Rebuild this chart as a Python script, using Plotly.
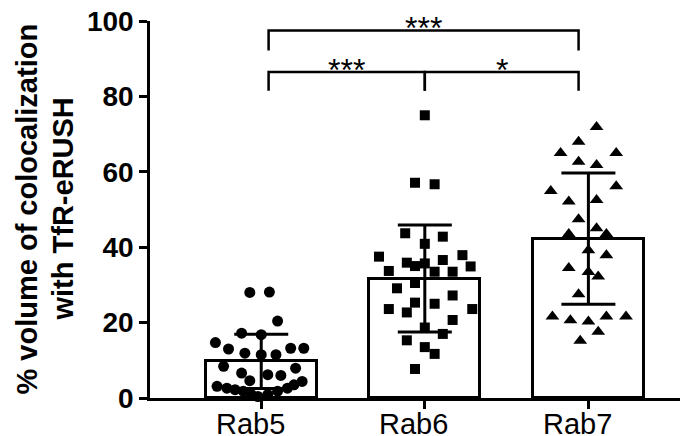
import plotly.graph_objects as go

# ---------------- data ----------------
categories = ["Rab5", "Rab6", "Rab7"]
bar_means = [9.7, 31.7, 42.3]
bar_sd = [7.2, 14.2, 17.4]

rab5_values = [28.0, 28.1, 20.4, 17.2, 16.8, 14.7, 13.0, 13.2, 13.2, 11.9, 11.5, 11.5,
               8.4, 7.9, 6.6, 4.6, 6.2, 6.0, 3.1, 2.6, 2.2, 1.8, 0.9, 0.4, 0.9, 1.8,
               2.6, 3.5, 4.4]
rab5_jitter = [-0.07, 0.05, 0.10, -0.12, 0.0, -0.28, -0.20, 0.18, 0.26, -0.10, 0.0, 0.09,
               -0.23, 0.21, -0.12, -0.07, 0.04, 0.12, -0.27, -0.21, -0.16, -0.11, -0.06,
               -0.02, 0.04, 0.10, 0.16, 0.20, 0.25]

rab6_values = [75.0, 57.1, 56.7, 43.7, 42.8, 40.9, 37.5, 35.9, 35.0, 35.7, 36.6, 37.9,
               34.9, 33.7, 33.5, 33.5, 29.1, 30.5, 27.2, 23.6, 22.7, 25.3, 25.0, 23.6,
               20.7, 18.7, 17.0, 15.3, 13.5, 11.7, 7.7]
rab6_jitter = [0.0, -0.06, 0.06, -0.12, 0.11, 0.0, -0.28, -0.11, -0.06, 0.0, 0.11, 0.23,
               0.28, -0.22, 0.06, 0.17, -0.17, -0.06, 0.17, -0.22, -0.11, -0.06, 0.06,
               0.29, 0.17, 0.0, 0.11, -0.11, 0.0, 0.06, -0.06]

rab7_values = [71.9, 68.0, 65.0, 65.0, 62.7, 61.8, 56.2, 54.9, 52.1, 52.5, 47.4, 45.0,
               43.5, 43.5, 39.2, 37.9, 34.5, 33.4, 32.2, 27.5, 21.6, 20.6, 20.3, 21.6,
               21.6, 17.6, 15.2]
rab7_jitter = [0.05, -0.06, -0.17, 0.17, -0.06, 0.05, 0.17, -0.23, -0.12, 0.05, -0.06, 0.05,
               -0.12, 0.11, 0.0, 0.11, -0.12, 0.0, 0.06, -0.06, -0.22, -0.11, 0.0, 0.11,
               0.23, 0.06, -0.05]

# significance comparisons: (group a, group b, label, bracket height, leg bottom)
comparisons = [(0, 2, "***", 97.5, 92.2), (0, 1, "***", 86.5, 81.5), (1, 2, "*", 86.5, 81.5)]

y_ticks = [0, 20, 40, 60, 80, 100]

# ---------------- styling constants ----------------
FONT = "Liberation Sans, Arial, sans-serif"
bracket_anchor = [0.045, 1.0, 1.94]

fig = go.Figure()

fig.add_trace(go.Bar(
    x=list(range(len(categories))), y=bar_means, width=0.68,
    marker=dict(color="white", line=dict(color="black", width=3)),
    error_y=dict(type="data", array=bar_sd, visible=True, color="black",
                 thickness=3, width=27),
    showlegend=False,
))

groups = [
    (rab5_values, rab5_jitter, "circle", 11),
    (rab6_values, rab6_jitter, "square", 10),
    (rab7_values, rab7_jitter, "triangle-up", 12),
]
for i, (vals, jit, sym, size) in enumerate(groups):
    fig.add_trace(go.Scatter(
        x=[i + j for j in jit], y=vals, mode="markers",
        marker=dict(symbol=sym, size=size, color="black", line=dict(width=0)),
        cliponaxis=False, showlegend=False,
    ))

shapes = []
annotations = []
for a, b, label, h, low in comparisons:
    xa, xb = bracket_anchor[a], bracket_anchor[b]
    shapes.append(dict(type="path", xref="x", yref="y",
                       path=f"M {xa},{low} L {xa},{h} L {xb},{h} L {xb},{low}",
                       line=dict(color="black", width=2.5)))
    annotations.append(dict(x=(xa + xb) / 2, y=h, xref="x", yref="y", text=label,
                            showarrow=False, yanchor="bottom", yshift=-18,
                            font=dict(family=FONT, size=32, color="black")))

# category labels (drawn slightly left of their ticks, as in the reference)
for i, name in enumerate(categories):
    annotations.append(dict(x=i, y=0, xref="x", yref="paper", text=name,
                            showarrow=False, xanchor="center", yanchor="top",
                            xshift=-11, yshift=-8,
                            font=dict(family=FONT, size=29, color="black")))

# y-axis title as two rotated lines
annotations.append(dict(x=0, xref="paper", xshift=-124, y=0.5, yref="paper",
                        text="% volume of colocalization", textangle=-90, showarrow=False,
                        xanchor="center", yanchor="middle",
                        font=dict(family=FONT, size=29, color="black", weight="bold")))
annotations.append(dict(x=0, xref="paper", xshift=-88, y=0.5, yref="paper",
                        text="with TfR-eRUSH", textangle=-90, showarrow=False,
                        xanchor="center", yanchor="middle",
                        font=dict(family=FONT, size=29, color="black", weight="bold")))

fig.update_layout(
    width=691, height=436,
    margin=dict(l=142, r=19, t=13, b=45.7, autoexpand=False),
    paper_bgcolor="white", plot_bgcolor="white",
    shapes=shapes, annotations=annotations,
    bargap=0,
)
fig.update_xaxes(
    range=[-0.68, 2.56], tickvals=list(range(len(categories))), showticklabels=False,
    showline=True, linecolor="black", linewidth=2.5, ticks="outside", ticklen=8,
    tickwidth=2.5, tickcolor="black", showgrid=False, zeroline=False, automargin=False,
)
fig.update_yaxes(
    range=[0, 100.01], tickvals=y_ticks, showline=True, linecolor="black", linewidth=2.5,
    ticks="outside", ticklen=8, tickwidth=2.5, tickcolor="black", showgrid=False,
    zeroline=False, automargin=False, ticklabeloverflow="allow",
    tickfont=dict(family=FONT, size=28, color="black", weight="bold"),
)

fig.write_html("out.html")
